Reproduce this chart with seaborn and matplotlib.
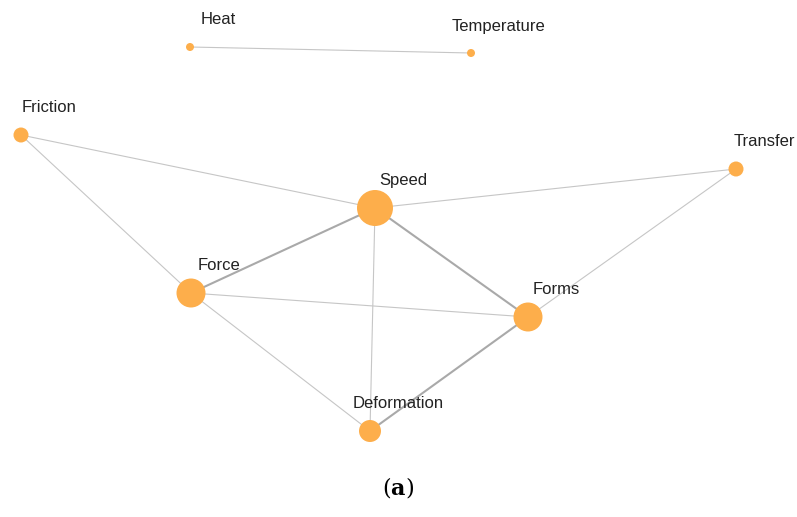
import pandas as pd
import seaborn as sns
import matplotlib.pyplot as plt

# nodes (pixel layout of the reference) and their size
nomes = ['Heat', 'Temperature', 'Friction', 'Transfer', 'Speed', 'Force', 'Forms', 'Deformation']
pos_x = [190, 471, 21, 736, 375, 191, 528, 370]
pos_y = [47, 53, 135, 169, 208, 293, 317, 431]
diametro = [8, 8, 15, 15, 36, 29, 29, 22]

# edges and weight
origem = ['Heat', 'Friction', 'Friction', 'Speed', 'Transfer', 'Speed', 'Speed', 'Speed', 'Force', 'Force', 'Deformation']
destino = ['Temperature', 'Speed', 'Force', 'Transfer', 'Forms', 'Force', 'Forms', 'Deformation', 'Forms', 'Deformation', 'Forms']
peso = [1, 1, 1, 1, 1, 2, 2, 1, 1, 1, 2]

nos = pd.DataFrame({'nome': nomes, 'x': pos_x, 'y': pos_y, 'd': diametro})
nos['area'] = (nos['d'] * 0.72) ** 2
arestas = pd.DataFrame({'a': origem, 'b': destino, 'peso': peso})

sns.set_style('white')
plt.rcParams['font.family'] = ['Liberation Sans', 'DejaVu Sans']
plt.rcParams['mathtext.fontset'] = 'dejavuserif'

fig = plt.figure(figsize=(7.97, 5.17), dpi=100)
ax = fig.add_axes([0, 0, 1, 1])

idx = nos.set_index('nome')
for _, e in arestas.iterrows():
    p, q = idx.loc[e['a']], idx.loc[e['b']]
    if e['peso'] > 1:
        cor, lw = '#a9a9a9', 1.5
    else:
        cor, lw = '#c6c6c6', 0.8
    ax.plot([p['x'], q['x']], [p['y'], q['y']], color=cor, lw=lw, zorder=1,
            solid_capstyle='round')

sns.scatterplot(data=nos, x='x', y='y', size='area',
                sizes=(nos['area'].min(), nos['area'].max()),
                size_norm=(nos['area'].min(), nos['area'].max()),
                color='#fdae4b', edgecolor='none', legend=False, zorder=3, ax=ax)

for _, n in nos.iterrows():
    ax.text(n['x'] + 28, n['y'] - 27, n['nome'], ha='center', va='center',
            fontsize=12, color='#222222', zorder=4)

ax.text(398, 488, r'($\mathbf{a}$)', ha='center', va='center', fontsize=16,
        family='DejaVu Serif', color='black')

ax.set_xlim(0, 797)
ax.set_ylim(517, 0)
ax.axis('off')

plt.savefig('out.png', dpi=100)
